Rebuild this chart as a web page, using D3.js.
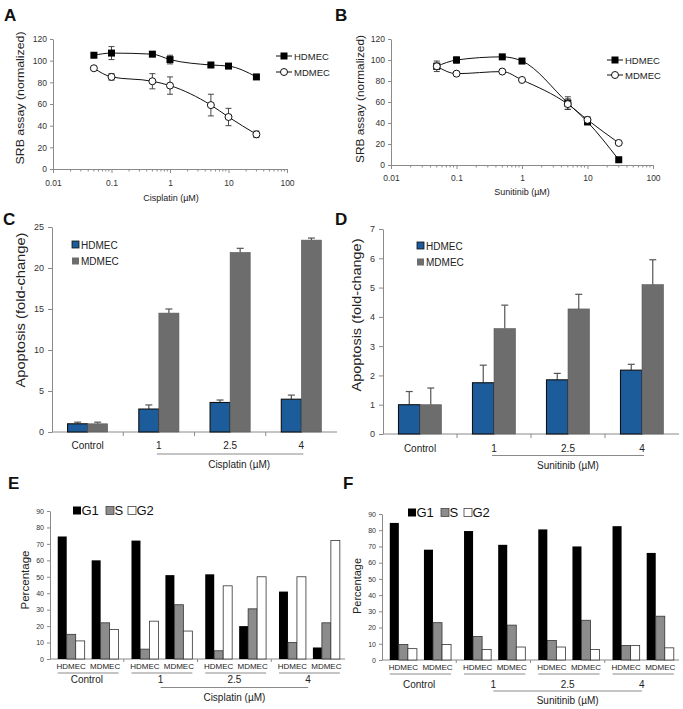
<!DOCTYPE html>
<html>
<head>
<meta charset="utf-8">
<script src="https://cdn.jsdelivr.net/npm/d3@7"></script>
<style>
  body { margin: 0; background: #fff; }
  svg { font-family: "Liberation Sans", Arial, sans-serif; }
  .axis path, .axis line { stroke: #8a8a8a; }
  .axis text { fill: #333; }
</style>
</head>
<body>
<div id="fig"></div>
<script>
// ---------- data ----------
// A / B : SRB assay (normalized) vs dose
var doses = [0.05, 0.1, 0.5, 1, 5, 10, 30];
var cisHD = [105, 107, 106, 101, 96, 95, 85];
var cisHDerr = [1.5, 6, 1.5, 4, 1.5, 1.5, 2];
var cisMD = [93, 85, 81, 77, 59, 48, 32];
var cisMDerr = [1, 3, 7, 8, 10, 8, 3];
var sunHD = [94, 100, 103, 99, 59, 41, 5];
var sunHDerr = [5, 3, 1, 1, 6, 2, 1];
var sunMD = [94, 87, 89, 81, 58, 43, 21];
var sunMDerr = [3, 1, 1, 1, 5, 3, 1];
var srbTicks = [0, 20, 40, 60, 80, 100, 120];
var logTicks = [0.01, 0.1, 1, 10, 100];

// C / D : apoptosis fold-change
var doseCats = ["Control", "1", "2.5", "4"];
var cells = ["HDMEC", "MDMEC"];
var cisApoHD = [1.0, 2.8, 3.6, 4.0];
var cisApoHDerr = [0.2, 0.5, 0.3, 0.5];
var cisApoMD = [1.0, 14.5, 21.9, 23.4];
var cisApoMDerr = [0.2, 0.5, 0.5, 0.25];
var sunApoHD = [1.0, 1.75, 1.85, 2.18];
var sunApoHDerr = [0.45, 0.6, 0.22, 0.2];
var sunApoMD = [1.0, 3.6, 4.27, 5.1];
var sunApoMDerr = [0.57, 0.8, 0.5, 0.85];

// E / F : cell cycle percentage, per dose [G1, S, G2]
var phases = ["G1", "S", "G2"];
var cisCycHD = [[74.5, 15, 11], [72, 6, 23], [51.5, 5, 44.5], [41, 10, 50]];
var cisCycMD = [[60, 22, 18], [51, 33, 17], [20, 30.5, 50], [7, 22, 72]];
var sunCycHD = [[84.5, 9.5, 7], [79.5, 14.5, 6.5], [80.5, 12, 8], [82.5, 9, 9]];
var sunCycMD = [[68, 23, 9.5], [71, 21.5, 8], [70, 24.5, 6.5], [66, 27, 7.5]];

// ---------- svg ----------
var svg = d3.select("#fig").append("svg")
  .attr("width", 683)
  .attr("height", 709);

svg.append("rect").attr("width", 683).attr("height", 709).attr("fill", "#fff");

function letter(t, x, y) {
  svg.append("text").attr("x", x).attr("y", y)
    .attr("font-size", 17).attr("font-weight", "bold").attr("fill", "#111")
    .text(t);
}

function yLabel(t, x, y, size, len) {
  svg.append("text")
    .attr("transform", `translate(${x},${y}) rotate(-90)`)
    .attr("text-anchor", "middle")
    .attr("font-size", size)
    .attr("textLength", len)
    .attr("lengthAdjust", "spacingAndGlyphs")
    .attr("fill", "#222")
    .text(t);
}

// ---------- line panels (A, B) ----------
function linePanel(o) {
  var x = d3.scaleLog().domain([0.01, 100]).range([o.left, o.right]);
  var y = d3.scaleLinear().domain([0, 120]).range([o.bottom, o.top]);

  svg.append("g").attr("class", "axis")
    .attr("transform", `translate(${o.left},0)`)
    .call(d3.axisLeft(y).tickValues(srbTicks).tickSize(3).tickPadding(3).tickSizeOuter(0))
    .attr("font-size", 8.5);

  var gx = svg.append("g").attr("class", "axis")
    .attr("transform", `translate(0,${o.bottom})`)
    .call(d3.axisBottom(x).tickValues(logTicks).tickFormat(d => String(d))
      .tickSize(4).tickPadding(o.xPad).tickSizeOuter(0))
    .attr("font-size", 8.5);
  gx.selectAll("text").attr("fill", "#333");

  // minor log ticks
  var minor = [];
  [0.01, 0.1, 1, 10].forEach(function(dec) {
    for (var k = 2; k <= 9; k++) minor.push(k * dec);
  });
  gx.selectAll("line.minor").data(minor).enter().append("line")
    .attr("class", "minor")
    .attr("x1", d => x(d)).attr("x2", d => x(d))
    .attr("y1", 0).attr("y2", 2.5)
    .attr("stroke", "#8a8a8a");

  var line = d3.line().x(d => x(d[0])).y(d => y(d[1])).curve(d3.curveMonotoneX);

  o.series.forEach(function(s) {
    var pts = d3.zip(doses, s.v, s.e);
    svg.append("path").datum(pts)
      .attr("d", line).attr("fill", "none").attr("stroke", "#111").attr("stroke-width", 1);

    var eb = svg.append("g");
    pts.forEach(function(p) {
      var cx = x(p[0]), y1 = y(p[1] - p[2]), y2 = y(p[1] + p[2]);
      eb.append("line").attr("x1", cx).attr("x2", cx).attr("y1", y1).attr("y2", y2)
        .attr("stroke", "#333").attr("stroke-width", 0.9);
      [y1, y2].forEach(function(yy) {
        eb.append("line").attr("x1", cx - 3).attr("x2", cx + 3).attr("y1", yy).attr("y2", yy)
          .attr("stroke", "#333").attr("stroke-width", 0.9);
      });
    });
  });

  o.series.forEach(function(s) {
    var pts = d3.zip(doses, s.v);
    drawMarker(s.shape, pts.map(p => [x(p[0]), y(p[1])]));
  });

  // legend
  o.series.forEach(function(s, i) {
    var ly = o.legY + i * o.legDy;
    svg.append("line").attr("x1", o.legX).attr("x2", o.legX + 16)
      .attr("y1", ly).attr("y2", ly).attr("stroke", "#111");
    drawMarker(s.shape, [[o.legX + 8, ly]]);
    svg.append("text").attr("x", o.legX + 18).attr("y", ly + 3.5)
      .attr("font-size", 9.5).attr("fill", "#222").text(s.name);
  });

  svg.append("text").attr("x", o.xLabX).attr("y", o.xLabY)
    .attr("text-anchor", "middle").attr("font-size", 9).attr("fill", "#222")
    .text(o.xLabel);
  yLabel("SRB assay (normalized)", o.yLabX, o.yLabY, 11, o.yLabLen);
}

function drawMarker(shape, pts) {
  pts.forEach(function(p) {
    if (shape === "square") {
      svg.append("rect").attr("x", p[0] - 3.5).attr("y", p[1] - 3.5)
        .attr("width", 7).attr("height", 7).attr("fill", "#000");
    } else {
      svg.append("circle").attr("cx", p[0]).attr("cy", p[1]).attr("r", 3.5)
        .attr("fill", "#fff").attr("stroke", "#111").attr("stroke-width", 1);
    }
  });
}

// ---------- apoptosis bar panels (C, D) ----------
var apoColor = { HDMEC: "#1d5c9b", MDMEC: "#6d6d6d" };

function apoPanel(o) {
  var x = d3.scaleBand().domain(doseCats).range([o.left, o.right]).padding(0);
  var xi = d3.scaleBand().domain(cells).range([0, x.bandwidth()])
    .paddingInner(0).paddingOuter(o.pOuter);
  var y = d3.scaleLinear().domain([0, o.yMax]).range([o.bottom, o.top]);

  svg.append("g").attr("class", "axis")
    .attr("transform", `translate(${o.left},0)`)
    .call(d3.axisLeft(y).ticks(o.yMax / o.step).tickSize(4).tickPadding(4).tickSizeOuter(0))
    .attr("font-size", 9);

  // x axis line with boundary ticks
  svg.append("line").attr("x1", o.left).attr("x2", o.right)
    .attr("y1", o.bottom).attr("y2", o.bottom).attr("stroke", "#8a8a8a");
  doseCats.slice(1).forEach(function(c) {
    svg.append("line").attr("x1", x(c)).attr("x2", x(c))
      .attr("y1", o.bottom).attr("y2", o.bottom + 4).attr("stroke", "#8a8a8a");
  });

  var rows = [];
  doseCats.forEach(function(c, i) {
    rows.push({ cat: c, cell: "HDMEC", v: o.hd[i], e: o.hdErr[i] });
    rows.push({ cat: c, cell: "MDMEC", v: o.md[i], e: o.mdErr[i] });
  });

  // error bars (upper only)
  rows.forEach(function(d) {
    var cx = x(d.cat) + xi(d.cell) + xi.bandwidth() / 2;
    var yt = y(d.v + d.e);
    svg.append("line").attr("x1", cx).attr("x2", cx).attr("y1", y(d.v)).attr("y2", yt)
      .attr("stroke", "#555").attr("stroke-width", 1.2);
    svg.append("line").attr("x1", cx - 3.5).attr("x2", cx + 3.5).attr("y1", yt).attr("y2", yt)
      .attr("stroke", "#555").attr("stroke-width", 1.2);
  });

  svg.append("g").selectAll("rect").data(rows).enter().append("rect")
    .attr("x", d => x(d.cat) + xi(d.cell))
    .attr("y", d => y(d.v))
    .attr("width", xi.bandwidth())
    .attr("height", d => o.bottom - y(d.v))
    .attr("fill", d => apoColor[d.cell])
    .attr("stroke", d => d.cell === "HDMEC" ? "#111" : "#5a5a5a")
    .attr("stroke-width", d => d.cell === "HDMEC" ? 1.1 : 0.6);

  // legend
  cells.forEach(function(c, i) {
    var ly = o.legY + i * 16.5;
    svg.append("rect").attr("x", o.legX).attr("y", ly - 7).attr("width", 7).attr("height", 7)
      .attr("fill", apoColor[c]).attr("stroke", c === "HDMEC" ? "#111" : "none").attr("stroke-width", 0.8);
    svg.append("text").attr("x", o.legX + 9).attr("y", ly + 0.5)
      .attr("font-size", 10).attr("fill", "#222").text(c);
  });

  // category labels
  doseCats.forEach(function(c) {
    svg.append("text").attr("x", x(c) + x.bandwidth() / 2).attr("y", o.labY)
      .attr("text-anchor", "middle").attr("font-size", 10).attr("fill", "#222").text(c);
  });
  var l0 = x("1") + x.bandwidth() / 2 - 2, l1 = x("4") + x.bandwidth() / 2 + 2;
  svg.append("line").attr("x1", l0).attr("x2", l1).attr("y1", o.lineY).attr("y2", o.lineY)
    .attr("stroke", "#8a8a8a");
  svg.append("text").attr("x", (l0 + l1) / 2 + o.drugDx).attr("y", o.drugY)
    .attr("text-anchor", "middle").attr("font-size", 10).attr("fill", "#222").text(o.drug);

  yLabel("Apoptosis (fold-change)", o.yLabX, o.yLabY, 12.5, o.yLabLen);
}

// ---------- cell cycle panels (E, F) ----------
var phaseFill = { G1: "#000", S: "#8c8c8c", G2: "#fff" };

function cyclePanel(o) {
  var x = d3.scaleBand().domain(doseCats).range([o.left, o.right]).padding(0);
  var xm = d3.scaleBand().domain(cells).range([0, x.bandwidth()])
    .paddingInner(0.206).paddingOuter(0.19).align(0.6);
  var xp = d3.scaleBand().domain(phases).range([0, xm.bandwidth()]).padding(0);
  var y = d3.scaleLinear().domain([0, 90]).range([o.bottom, o.top]);

  svg.append("g").attr("class", "axis")
    .attr("transform", `translate(${o.left},0)`)
    .call(d3.axisLeft(y).ticks(9).tickSize(3).tickPadding(3).tickSizeOuter(0))
    .attr("font-size", 7);

  svg.append("line").attr("x1", o.left).attr("x2", o.right)
    .attr("y1", o.bottom).attr("y2", o.bottom).attr("stroke", "#8a8a8a");
  doseCats.slice(1).forEach(function(c) {
    svg.append("line").attr("x1", x(c)).attr("x2", x(c))
      .attr("y1", o.bottom).attr("y2", o.bottom + 3).attr("stroke", "#8a8a8a");
  });

  var rows = [];
  doseCats.forEach(function(c, i) {
    phases.forEach(function(p, j) {
      rows.push({ cat: c, cell: "HDMEC", ph: p, v: o.hd[i][j] });
      rows.push({ cat: c, cell: "MDMEC", ph: p, v: o.md[i][j] });
    });
  });

  svg.append("g").selectAll("rect").data(rows).enter().append("rect")
    .attr("x", d => x(d.cat) + xm(d.cell) + xp(d.ph))
    .attr("y", d => y(d.v))
    .attr("width", xp.bandwidth())
    .attr("height", d => o.bottom - y(d.v))
    .attr("fill", d => phaseFill[d.ph])
    .attr("stroke", d => d.ph === "G1" ? "none" : "#333")
    .attr("stroke-width", 0.8);

  // legend
  phases.forEach(function(p, i) {
    var lx = o.legX[i];
    svg.append("rect").attr("x", lx).attr("y", o.legY - 8.5).attr("width", 8).attr("height", 8)
      .attr("fill", phaseFill[p]).attr("stroke", p === "G1" ? "none" : "#444").attr("stroke-width", 0.8);
    svg.append("text").attr("x", lx + 8.5).attr("y", o.legY)
      .attr("font-size", 13).attr("fill", "#111").text(p);
  });

  // labels under axis
  doseCats.forEach(function(c) {
    var cx = x(c);
    cells.forEach(function(cl) {
      svg.append("text").attr("x", cx + xm(cl) + xm.bandwidth() / 2).attr("y", o.cellY)
        .attr("text-anchor", "middle").attr("font-size", 8).attr("fill", "#222").text(cl);
    });
    svg.append("line").attr("x1", cx + xm("HDMEC")).attr("x2", cx + xm("MDMEC") + xm.bandwidth())
      .attr("y1", o.ul1).attr("y2", o.ul1).attr("stroke", "#8a8a8a");
    svg.append("text").attr("x", cx + x.bandwidth() / 2).attr("y", o.labY)
      .attr("text-anchor", "middle").attr("font-size", 10).attr("fill", "#222").text(c);
  });
  var l0 = x("1") + x.bandwidth() / 2, l1 = x("4") + x.bandwidth() / 2;
  svg.append("line").attr("x1", l0).attr("x2", l1).attr("y1", o.ul2).attr("y2", o.ul2)
    .attr("stroke", "#8a8a8a");
  svg.append("text").attr("x", (l0 + l1) / 2).attr("y", o.drugY)
    .attr("text-anchor", "middle").attr("font-size", 10).attr("fill", "#222").text(o.drug);

  yLabel("Percentage", o.yLabX, o.yLabY, 11.5, o.yLabLen);
}

// ---------- draw ----------
letter("A", 4, 21);
linePanel({
  left: 53, right: 287, top: 39, bottom: 169, xPad: 7,
  series: [
    { name: "HDMEC", shape: "square", v: cisHD, e: cisHDerr },
    { name: "MDMEC", shape: "circle", v: cisMD, e: cisMDerr }
  ],
  legX: 276, legY: 56, legDy: 16,
  xLabel: "Cisplatin (\u00b5M)", xLabX: 171, xLabY: 201,
  yLabX: 24, yLabY: 98, yLabLen: 133
});

letter("B", 335, 21);
linePanel({
  left: 391, right: 653, top: 39, bottom: 165, xPad: 6,
  series: [
    { name: "HDMEC", shape: "square", v: sunHD, e: sunHDerr },
    { name: "MDMEC", shape: "circle", v: sunMD, e: sunMDerr }
  ],
  legX: 607, legY: 60, legDy: 15,
  xLabel: "Sunitinib (\u00b5M)", xLabX: 522, xLabY: 195,
  yLabX: 364, yLabY: 99, yLabLen: 128
});

letter("C", 3, 225);
apoPanel({
  left: 52, right: 337, top: 227, bottom: 432, yMax: 25, step: 5, pOuter: 0.775,
  hd: cisApoHD, hdErr: cisApoHDerr, md: cisApoMD, mdErr: cisApoMDerr,
  legX: 72, legY: 248,
  labY: 449, lineY: 454, drugY: 468, drugDx: 9, drug: "Cisplatin (\u00b5M)",
  yLabX: 25, yLabY: 310, yLabLen: 155
});

letter("D", 335, 225);
apoPanel({
  left: 383, right: 679, top: 229, bottom: 434, yMax: 7, step: 1, pOuter: 0.72,
  hd: sunApoHD, hdErr: sunApoHDerr, md: sunApoMD, mdErr: sunApoMDerr,
  legX: 417, legY: 249,
  labY: 452, lineY: 455.5, drugY: 469, drugDx: 0, drug: "Sunitinib (\u00b5M)",
  yLabX: 361, yLabY: 315, yLabLen: 153
});

letter("E", 8, 489);
cyclePanel({
  left: 50, right: 345, top: 511, bottom: 659,
  hd: cisCycHD, md: cisCycMD,
  legX: [73, 106, 128], legY: 515,
  cellY: 669, ul1: 673, labY: 683, ul2: 687.5, drugY: 701, drug: "Cisplatin (\u00b5M)",
  yLabX: 29, yLabY: 580, yLabLen: 59
});

letter("F", 343, 489);
cyclePanel({
  left: 382, right: 679, top: 514, bottom: 660,
  hd: sunCycHD, md: sunCycMD,
  legX: [408, 441, 464], legY: 517,
  cellY: 670, ul1: 674, labY: 688, ul2: 691, drugY: 704, drug: "Sunitinib (\u00b5M)",
  yLabX: 361, yLabY: 586, yLabLen: 56
});
</script>
</body>
</html>
